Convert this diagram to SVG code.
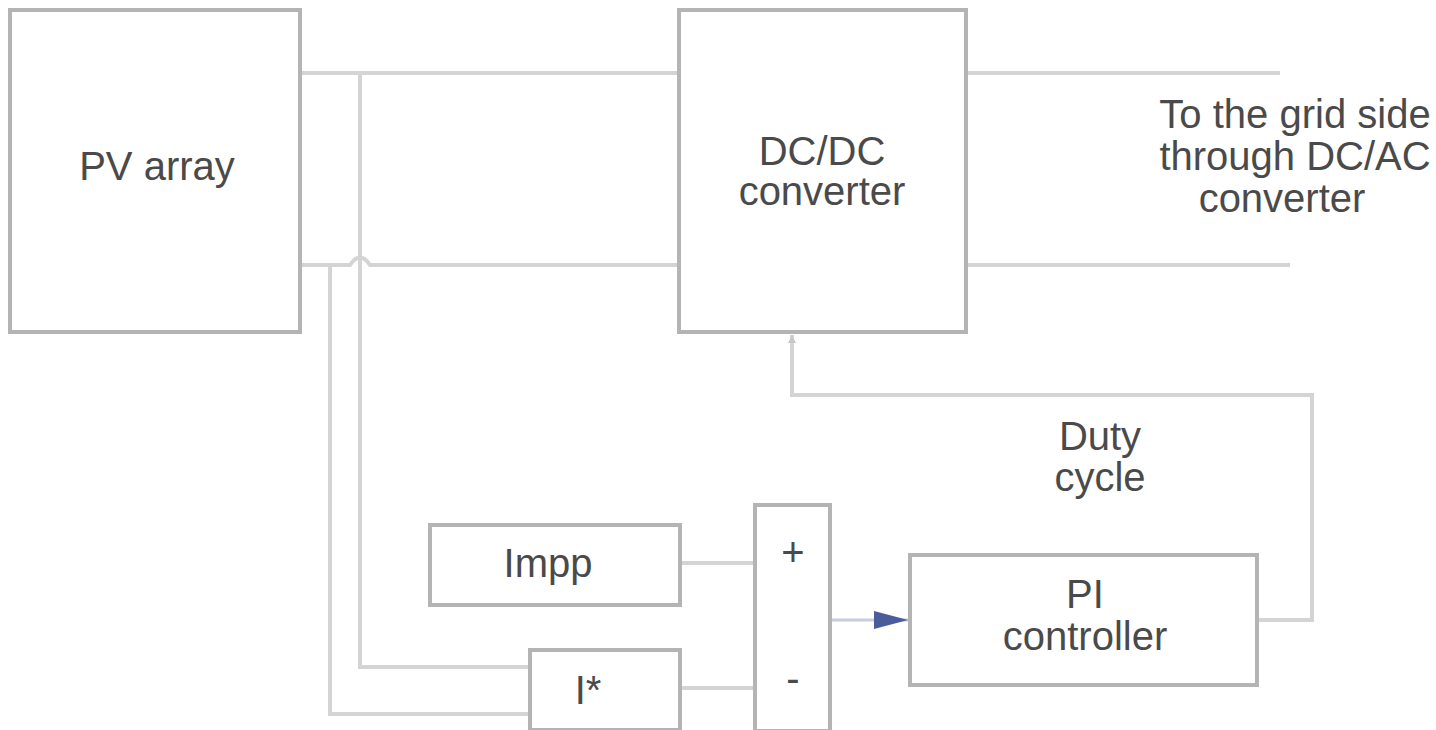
<svg xmlns="http://www.w3.org/2000/svg" width="1436" height="730" viewBox="0 0 1436 730">
<defs>
<style>
.box{fill:#fff;stroke:#b4b4b4;stroke-width:4}
.wire{fill:none;stroke:#d4d4d4;stroke-width:4}
.t{font-family:"Liberation Sans",Arial,sans-serif;fill:#4a4a4a;font-size:40px;text-anchor:middle}
</style>
<marker id="up" viewBox="0 0 10 10" refX="10" refY="5" markerWidth="10" markerHeight="8" orient="auto" markerUnits="userSpaceOnUse">
<path d="M0,0 L10,5 L0,10 z" fill="#c8c8c8"/>
</marker>
</defs>
<rect width="1436" height="730" fill="#fff"/>
<g id="connectors">
<path class="wire" d="M300,73 H679"/>
<path class="wire" d="M300,265 H350 Q360,250 370,265 H679"/>
<path class="wire" d="M966,73 H1280"/>
<path class="wire" d="M966,265 H1290"/>
<path class="wire" d="M360,73 V667 H530"/>
<path class="wire" d="M330,265 V714 H530"/>
<path class="wire" d="M680,563 H755"/>
<path class="wire" d="M680,688 H755"/>
<path d="M830,620 H908" fill="none" stroke="#c8cce0" stroke-width="3"/>
<path d="M874,611 L908,620 L874,629 z" fill="#4a5c9a"/>
<path class="wire" d="M1257,620 H1312 V395 H792 V335" marker-end="url(#up)"/>
</g>
<g id="pv"><rect class="box" x="10" y="10" width="290" height="322"/><text class="t" x="157" y="180">PV array</text></g>
<g id="dcdc"><rect class="box" x="679" y="10" width="287" height="322"/><text class="t" x="822" y="165">DC/DC</text><text class="t" x="822" y="205">converter</text></g>
<g id="grid"><text class="t" x="1295" y="128">To the grid side</text><text class="t" x="1295" y="170">through DC/AC</text><text class="t" x="1282" y="212">converter</text></g>
<g id="duty"><text class="t" x="1100" y="450" font-size="37">Duty</text><text class="t" x="1100" y="491" font-size="37">cycle</text></g>
<g id="impp"><rect class="box" x="430" y="525" width="250" height="80"/><text class="t" x="548" y="577">Impp</text></g>
<g id="istar"><rect class="box" x="530" y="650" width="150" height="80"/><text class="t" x="588" y="704">I*</text></g>
<g id="sum"><rect class="box" x="755" y="505" width="75" height="226"/><text class="t" x="793" y="566" font-size="30">+</text><text class="t" x="793" y="692" font-size="26">-</text></g>
<g id="pi"><rect class="box" x="910" y="555" width="347" height="130"/><text class="t" x="1085" y="608">PI</text><text class="t" x="1085" y="650">controller</text></g>
</svg>
